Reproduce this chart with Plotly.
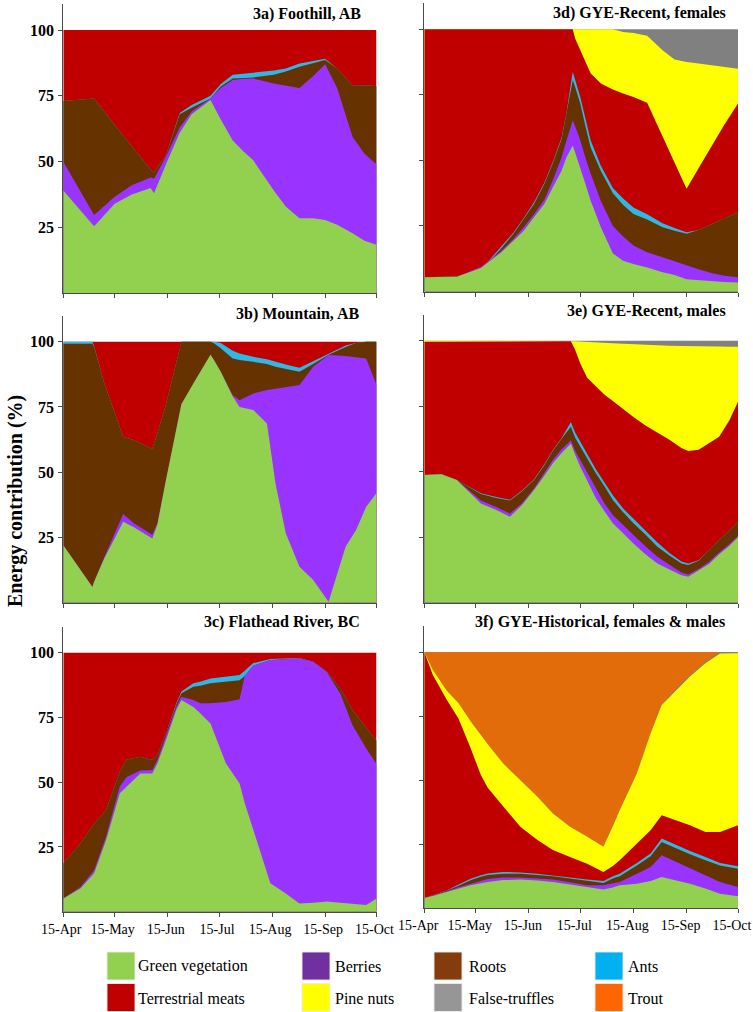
import plotly.graph_objects as go

# ---------------- categories / ticks ----------------
MONTH_DAYS = [0, 30, 61, 91, 122, 153, 183]          # days after 15-Apr
MONTH_LABELS = ['15-Apr', '15-May', '15-Jun', '15-Jul', '15-Aug', '15-Sep', '15-Oct']
Y_TICKS = [25, 50, 75, 100]
CATEGORIES = ['Green vegetation', 'Berries', 'Roots', 'Ants',
              'Terrestrial meats', 'Pine nuts', 'False-truffles', 'Trout']

# Values are cumulative energy contribution (%) at the top edge of each food layer
# ---------------- 3a) Foothill, AB ----------------
A_DAYS = [0, 18, 30, 40, 51, 53, 60, 68, 75, 86, 92, 99, 105, 111, 123, 130, 138, 146, 153, 160, 169, 176, 183]
A_GREEN = [39, 25.5, 34, 37.5, 40, 38, 49, 61, 68, 73.4, 66, 58, 54, 50.5, 39, 33, 28.5, 28.5, 27.8, 26, 22.8, 20, 18.4]
A_BERRIES = [50, 29.7, 36.7, 41, 44, 43.5, 52, 63, 69, 74, 78, 81, 81.5, 81.6, 79.7, 79, 78, 82.5, 87, 78, 59.5, 53, 49]
A_ROOTS = [73, 74, 64, 56, 47, 46, 52.5, 68, 70.5, 74, 78.5, 81.6, 81.8, 82, 83, 84.2, 86, 87.3, 88.6, 85.4, 79, 79, 78.7]
A_ANTS = [73, 74, 64, 56, 47, 46, 52.5, 68.5, 71.5, 75, 79.5, 83, 83.4, 83.8, 84.6, 85.4, 87.3, 88.2, 89.1, 85.4, 79, 79, 78.7]
A_MEATS = [100, 100, 100, 100, 100, 100, 100, 100, 100, 100, 100, 100, 100, 100, 100, 100, 100, 100, 100, 100, 100, 100, 100]

# ---------------- 3b) Mountain, AB ----------------
B_DAYS = [0, 17, 18, 24, 35, 41, 52, 55, 60, 69, 76, 86, 88, 92, 99, 103, 111, 119, 124, 130, 138, 146, 155, 165, 171, 177, 183]
B_GREEN = [22, 6, 8, 17, 31, 29, 24.6, 30, 47, 76, 84, 95, 93, 88.5, 79, 75, 73.8, 68.7, 45.7, 26.6, 13.8, 8.7, 0.4, 21.5, 27.8, 36.8, 42]
B_BERRIES = [22, 6, 8, 17.5, 34, 30.5, 26, 30.5, 47, 76, 84, 95, 93, 88.5, 79.5, 77.6, 80.2, 81.5, 82, 82.5, 83.4, 90.4, 94.9, 94.5, 94, 93.6, 83.4]
B_ROOTS = [99.2, 99.2, 98, 84, 63.6, 62.3, 59, 65, 76, 100, 100, 100, 99.4, 97.5, 93.6, 93, 92.3, 91.5, 90.4, 89.5, 88.5, 91.5, 95, 98, 99.5, 100, 100]
B_ANTS = [100, 100, 98.3, 84, 63.6, 62.3, 59, 65, 76, 100, 100, 100, 100, 99.5, 96.5, 95.5, 94.2, 93.3, 92.3, 91.3, 90, 92.5, 95.5, 98.5, 99.5, 100, 100]
B_MEATS = [100, 100, 100, 100, 100, 100, 100, 100, 100, 100, 100, 100, 100, 100, 100, 100, 100, 100, 100, 100, 100, 100, 100, 100, 100, 100, 100]

# ---------------- 3c) Flathead River, BC ----------------
C_DAYS = [0, 10, 18, 25, 33, 37, 45, 52, 55, 60, 66, 69, 76, 80, 86, 95, 103, 106, 111, 121, 130, 138, 146, 154, 162, 169, 177, 183]
C_GREEN = [5.1, 9, 14.8, 27.7, 45.7, 48.3, 53.4, 53.4, 57.3, 66.3, 77.9, 81.7, 79, 76.6, 72.7, 57.3, 49.5, 42, 31.5, 11, 7, 3.2, 3.5, 3.9, 3.5, 3.2, 2.6, 5.1]
C_BERRIES = [5.1, 9.5, 16, 29, 48.3, 52, 54.5, 54.7, 58.6, 67.6, 79, 83, 81.7, 80.5, 80.5, 81, 82, 91, 95, 97.2, 97.5, 97.8, 96.5, 92.5, 84, 72, 63, 57]
C_ROOTS = [18.7, 26.4, 34, 39.3, 54, 58.8, 59.8, 58.6, 60.5, 69, 80, 84.3, 86.9, 87.2, 88.2, 88.8, 89.4, 91, 95, 97.2, 97.5, 97.8, 96.5, 92.7, 86, 78, 71, 66]
C_ANTS = [18.7, 26.4, 34, 39.3, 54, 58.8, 59.8, 58.6, 60.5, 69, 80.5, 85, 88.2, 88.8, 90, 90.7, 91.4, 93, 96, 97.6, 97.8, 98, 96.5, 92.7, 86, 78, 71, 66]
C_MEATS = [100, 100, 100, 100, 100, 100, 100, 100, 100, 100, 100, 100, 100, 100, 100, 100, 100, 100, 100, 100, 100, 100, 100, 100, 100, 100, 100, 100]

# ---------------- 3d) GYE-Recent, females ----------------
D_DAYS = [0, 19, 33, 45, 52, 58, 64, 70, 75, 80, 83, 86.6, 88, 91, 94, 97, 103, 110, 116, 122, 130, 139, 146, 153, 160, 168, 175, 183]
D_GREEN = [5.4, 5.6, 9, 15, 19.4, 23.2, 28.3, 33.4, 39.8, 46, 51.3, 55.7, 53, 47.4, 41, 34.7, 24.5, 14.5, 11.7, 10.5, 9.2, 7.3, 6.3, 4.7, 4.3, 3.9, 3.6, 3.4]
D_BERRIES = [5.4, 5.6, 9.3, 15.5, 20, 24.5, 29.5, 35, 42.5, 51, 57.7, 65.3, 63, 57.7, 51, 45, 34.5, 25, 21, 17.5, 15, 13, 11.5, 9.8, 8.5, 7, 6, 5.4]
D_ROOTS = [5.4, 5.8, 8, 16.5, 22, 27.5, 33.4, 41, 49, 58, 67.9, 80.6, 78, 71.7, 63, 55, 46, 37.5, 33, 29.6, 27.5, 24.5, 23.2, 22, 23.5, 25.8, 28, 30.2]
D_ANTS = [5.4, 5.8, 8.3, 17, 22.5, 28, 34, 41.5, 49.5, 58.5, 68.5, 83.8, 81, 74.2, 66, 57.7, 48, 39.5, 35.5, 32, 29.5, 26, 24.2, 22.6, 23.5, 25.8, 28, 30.2]
D_MEATS = [100, 100, 100, 100, 100, 100, 100, 100, 100, 100, 100, 100, 96.5, 92, 87.5, 83.2, 79.3, 77, 75.5, 74.2, 72, 59, 49, 39.2, 47, 55.9, 63.6, 71.7]
D_PINE = [100, 100, 100, 100, 100, 100, 100, 100, 100, 100, 100, 100, 100, 100, 100, 100, 100, 100, 99, 98.6, 97.5, 92, 88.5, 87.5, 87, 86.3, 85.7, 85]
D_TRUFFLES = [100, 100, 100, 100, 100, 100, 100, 100, 100, 100, 100, 100, 100, 100, 100, 100, 100, 100, 100, 100, 100, 100, 100, 100, 100, 100, 100, 100]

# ---------------- 3e) GYE-Recent, males ----------------
E_DAYS = [0, 10, 19, 26, 33, 42, 50, 57, 64, 70, 75, 80, 85.5, 88, 91, 95, 100, 105, 110, 116, 122, 129, 136, 143, 150, 154, 160, 166, 172, 178, 183]
E_GREEN = [48.7, 49, 46.8, 42.4, 37.9, 35.4, 32.8, 37.3, 43, 48.5, 53.2, 57, 60.8, 56.5, 51.9, 46.6, 40, 35, 30.3, 26.5, 22.6, 18.5, 15, 12.7, 10.5, 9.9, 12.3, 14.8, 18.5, 21.7, 25]
E_BERRIES = [48.7, 49, 46.8, 42.8, 39, 36.5, 34, 38, 43.6, 49.5, 54.5, 58.5, 62, 58, 54.4, 49.5, 43.5, 38, 33.5, 29.5, 25.8, 21.5, 17.5, 14.5, 11.5, 10.8, 12.9, 15.5, 19.2, 22.4, 25.5]
E_ROOTS = [48.7, 49.1, 46.8, 44, 41.5, 40, 39, 42.5, 46.8, 52.5, 58, 62.5, 67.2, 63, 59.5, 55, 49.5, 44.5, 39.2, 34.5, 30.3, 26, 21.4, 18, 15, 14.4, 16, 20, 24, 27.5, 31]
E_ANTS = [48.7, 49.1, 46.8, 44.3, 41.8, 40.3, 39.3, 42.8, 47.1, 52.8, 58.3, 62.8, 69, 65, 61.5, 57, 51, 46, 41, 36, 32, 27.5, 23, 19, 15.7, 15, 16.2, 20, 24, 27.5, 31]
E_MEATS = [99.6, 99.6, 99.6, 99.6, 99.6, 99.6, 99.6, 99.6, 99.6, 99.6, 99.6, 99.6, 99.8, 96.5, 91.3, 85.9, 82.6, 79.5, 77, 73.8, 70.9, 67.6, 64.9, 62.2, 59, 57.9, 58.4, 61, 63.3, 69.6, 76.7]
E_PINE = [100, 100, 100, 100, 100, 100, 100, 100, 100, 100, 100, 100, 100, 99.8, 99.7, 99.5, 99.3, 99.1, 99, 98.8, 98.6, 98.4, 98.2, 98.1, 98, 98, 97.9, 97.9, 97.8, 97.7, 97.7]
E_TRUFFLES = [100, 100, 100, 100, 100, 100, 100, 100, 100, 100, 100, 100, 100, 100, 100, 100, 100, 100, 100, 100, 100, 100, 100, 100, 100, 100, 100, 100, 100, 100, 100]

# ---------------- 3f) GYE-Historical, females & males ----------------
F_DAYS = [0, 5, 13, 20, 27, 33, 37, 46, 56, 66, 75, 85, 95, 104.5, 110, 114, 124, 132, 138.5, 147, 155, 164, 172.5, 183]
F_GREEN = [4, 4.8, 6.4, 7.8, 9, 9.8, 10.3, 11, 11.2, 10.8, 10.3, 9.3, 8.3, 7.3, 8.1, 9, 9.6, 10.7, 12.2, 10.9, 9.6, 7.7, 5.7, 4.7]
F_BERRIES = [4, 4.9, 6.6, 8.2, 9.6, 10.8, 11.4, 12, 12, 11.6, 11.2, 10.2, 9, 9, 9.9, 10.3, 13.5, 16.1, 20.7, 18.1, 15.5, 12.9, 10.3, 8.3]
F_ROOTS = [4, 5, 6.8, 8.8, 10.9, 12.3, 13, 13.5, 13.5, 13, 12.5, 11.6, 10.7, 9.9, 11.6, 12.5, 16.7, 20.3, 25.9, 23.3, 21.1, 18.75, 16.7, 15.4]
F_ANTS = [4, 5, 6.9, 9.3, 11.5, 12.9, 13.6, 14.2, 14, 13.5, 12.9, 12, 11.2, 10.7, 12.5, 13.5, 17.7, 21.4, 27.2, 24.6, 22.4, 20, 17.7, 16.4]
F_MEATS = [100, 91, 81.5, 74, 62.5, 52, 47, 39.6, 31.8, 26.6, 22.7, 20, 17.4, 14.2, 16.5, 18.75, 25.3, 30.5, 36.3, 34.4, 32.4, 29.8, 29.8, 32.4]
F_PINE = [100, 93, 85, 80, 73, 67.5, 64, 56.5, 50, 43.5, 37, 31.8, 27.9, 24, 32, 38.3, 52.6, 68.2, 79.3, 85.2, 90.4, 95.6, 99.4, 99.5]
F_TRUFFLES = [100, 93, 85, 80, 73, 67.5, 64, 56.5, 50, 43.5, 37, 31.8, 27.9, 24, 32, 38.3, 52.6, 68.2, 79.6, 85.7, 90.9, 96.1, 100, 100]
F_TROUT = [100, 100, 100, 100, 100, 100, 100, 100, 100, 100, 100, 100, 100, 100, 100, 100, 100, 100, 100, 100, 100, 100, 100, 100]

# ---------------- styles ----------------
AREA_COLORS = {
    'Green vegetation': '#92D050', 'Berries': '#9933FF', 'Roots': '#663300',
    'Ants': '#2EB8E6', 'Terrestrial meats': '#C00000', 'Pine nuts': '#FFFF00',
    'False-truffles': '#808080', 'Trout': '#E36C0A',
}
LEGEND_COLORS = {
    'Green vegetation': '#92D050', 'Berries': '#7030A0', 'Roots': '#843C0C',
    'Ants': '#00B0F0', 'Terrestrial meats': '#C00000', 'Pine nuts': '#FFFF00',
    'False-truffles': '#969696', 'Trout': '#FF6600',
}
W, H = 753, 1012
SERIF = 'Liberation Serif'
AXCOL = '#4a4a4a'

def px_x(p):
    return p / W

def px_y(p):
    return 1 - p / H

# panel: (title, days, layers, x-domain px, y(0) px, y(100) px, show x labels, show y labels,
#         title pos px, x tick-label shift px)
PANELS = [
    ('3a) Foothill, AB', A_DAYS,
     [('Green vegetation', A_GREEN), ('Berries', A_BERRIES), ('Roots', A_ROOTS), ('Ants', A_ANTS),
      ('Terrestrial meats', A_MEATS)],
     (63.3, 376.5), 293.3, 30.0, False, True, (362.5, 14), 0),
    ('3b) Mountain, AB', B_DAYS,
     [('Green vegetation', B_GREEN), ('Berries', B_BERRIES), ('Roots', B_ROOTS), ('Ants', B_ANTS),
      ('Terrestrial meats', B_MEATS)],
     (63.3, 376.5), 602.7, 341.7, False, True, (361, 314), 0),
    ('3c) Flathead River, BC', C_DAYS,
     [('Green vegetation', C_GREEN), ('Berries', C_BERRIES), ('Roots', C_ROOTS), ('Ants', C_ANTS),
      ('Terrestrial meats', C_MEATS)],
     (63.3, 376.5), 911.7, 652.7, True, True, (361.5, 622), -2),
    ('3d) GYE-Recent, females', D_DAYS,
     [('Green vegetation', D_GREEN), ('Berries', D_BERRIES), ('Roots', D_ROOTS), ('Ants', D_ANTS),
      ('Terrestrial meats', D_MEATS), ('Pine nuts', D_PINE), ('False-truffles', D_TRUFFLES)],
     (424.3, 738), 291.5, 29.3, False, False, (728.3, 13.5), 0),
    ('3e) GYE-Recent, males', E_DAYS,
     [('Green vegetation', E_GREEN), ('Berries', E_BERRIES), ('Roots', E_ROOTS), ('Ants', E_ANTS),
      ('Terrestrial meats', E_MEATS), ('Pine nuts', E_PINE), ('False-truffles', E_TRUFFLES)],
     (424.3, 738), 602.7, 340.7, False, False, (727.7, 311.5), 0),
    ('3f) GYE-Historical, females & males', F_DAYS,
     [('Green vegetation', F_GREEN), ('Berries', F_BERRIES), ('Roots', F_ROOTS), ('Ants', F_ANTS),
      ('Terrestrial meats', F_MEATS), ('Pine nuts', F_PINE), ('False-truffles', F_TRUFFLES),
      ('Trout', F_TROUT)],
     (424.3, 738), 908.3, 652.0, True, False, (726.7, 622), -6),
]

fig = go.Figure()
layout = dict(
    width=W, height=H, margin=dict(l=0, r=0, t=0, b=0, pad=0, autoexpand=False),
    paper_bgcolor='white', plot_bgcolor='white', showlegend=False,
    annotations=[], shapes=[],
)
YMAX = 110
for i, (title, days, layers, xd, y0, y100, showx, showy, tpos, tshift) in enumerate(PANELS):
    n = i + 1
    xa = 'x' if n == 1 else f'x{n}'
    ya = 'y' if n == 1 else f'y{n}'
    unit = (y0 - y100) / 100.0
    ytop = y0 - unit * YMAX
    # draw top-most layer first, each filled down to zero, lower layers painted over
    for name, vals in reversed(layers):
        col = AREA_COLORS[name]
        fig.add_trace(go.Scatter(
            x=days, y=vals, mode='lines', line=dict(width=0, color=col),
            fill='tozeroy', fillcolor=col, xaxis=xa, yaxis=ya,
            hoverinfo='skip', showlegend=False, name=name))
    layout['xaxis' if n == 1 else f'xaxis{n}'] = dict(
        domain=[px_x(xd[0]), px_x(xd[1])], anchor=ya, range=[0, 183], automargin=False,
        tickmode='array', tickvals=MONTH_DAYS, ticktext=MONTH_LABELS, ticklabeloverflow='allow',
        ticklabelshift=tshift,
        showticklabels=showx, ticks='outside', ticklen=4, tickcolor=AXCOL, tickwidth=1,
        showline=True, linecolor=AXCOL, linewidth=1, showgrid=False, zeroline=False,
        tickfont=dict(family=SERIF, size=14, color='black'), fixedrange=True)
    layout['yaxis' if n == 1 else f'yaxis{n}'] = dict(
        domain=[px_y(y0), px_y(ytop)], anchor=xa, range=[0, YMAX], automargin=False,
        tickmode='array', tickvals=Y_TICKS, showticklabels=showy,
        ticks='outside', ticklen=4, tickcolor=AXCOL, tickwidth=1, ticklabelstandoff=1,
        showline=True, linecolor=AXCOL, linewidth=1, showgrid=False, zeroline=False,
        tickfont=dict(family=SERIF, size=16, color='black', weight='bold'), fixedrange=True)
    layout['annotations'].append(dict(
        text=title, xref='paper', yref='paper', x=px_x(tpos[0]), y=px_y(tpos[1]),
        xanchor='right', yanchor='middle', showarrow=False,
        font=dict(family=SERIF, size=16, color='black', weight='bold')))

# y-axis title
layout['annotations'].append(dict(
    text='Energy contribution (%)', xref='paper', yref='paper', x=px_x(16), y=px_y(501),
    xanchor='center', yanchor='middle', textangle=-90, showarrow=False,
    font=dict(family=SERIF, size=20, color='black', weight='bold')))

# legend (4 columns x 2 rows)
LEG_ORDER = [['Green vegetation', 'Berries', 'Roots', 'Ants'],
             ['Terrestrial meats', 'Pine nuts', 'False-truffles', 'Trout']]
SW_X = [107, 302, 434, 595]
TX_X = [136, 333, 467, 626]
SW_Y = [(952, 980), (983.5, 1011.5)]
TX_Y = [966, 998]
for r, row in enumerate(LEG_ORDER):
    for c, name in enumerate(row):
        layout['shapes'].append(dict(
            type='rect', xref='paper', yref='paper',
            x0=px_x(SW_X[c]), x1=px_x(SW_X[c] + 28),
            y0=px_y(SW_Y[r][1]), y1=px_y(SW_Y[r][0]),
            fillcolor=LEGEND_COLORS[name], line=dict(width=1, color='rgba(235,235,235,0.9)')))
        layout['annotations'].append(dict(
            text=name, xref='paper', yref='paper', x=px_x(TX_X[c]), y=px_y(TX_Y[r]),
            xanchor='left', yanchor='middle', showarrow=False,
            font=dict(family=SERIF, size=16, color='black')))

fig.update_layout(**layout)
fig.write_html('out.html', config={'displayModeBar': False, 'staticPlot': True},
               post_script="document.body.style.margin='0';document.body.style.padding='0';"
                           "document.body.style.overflow='hidden';")
